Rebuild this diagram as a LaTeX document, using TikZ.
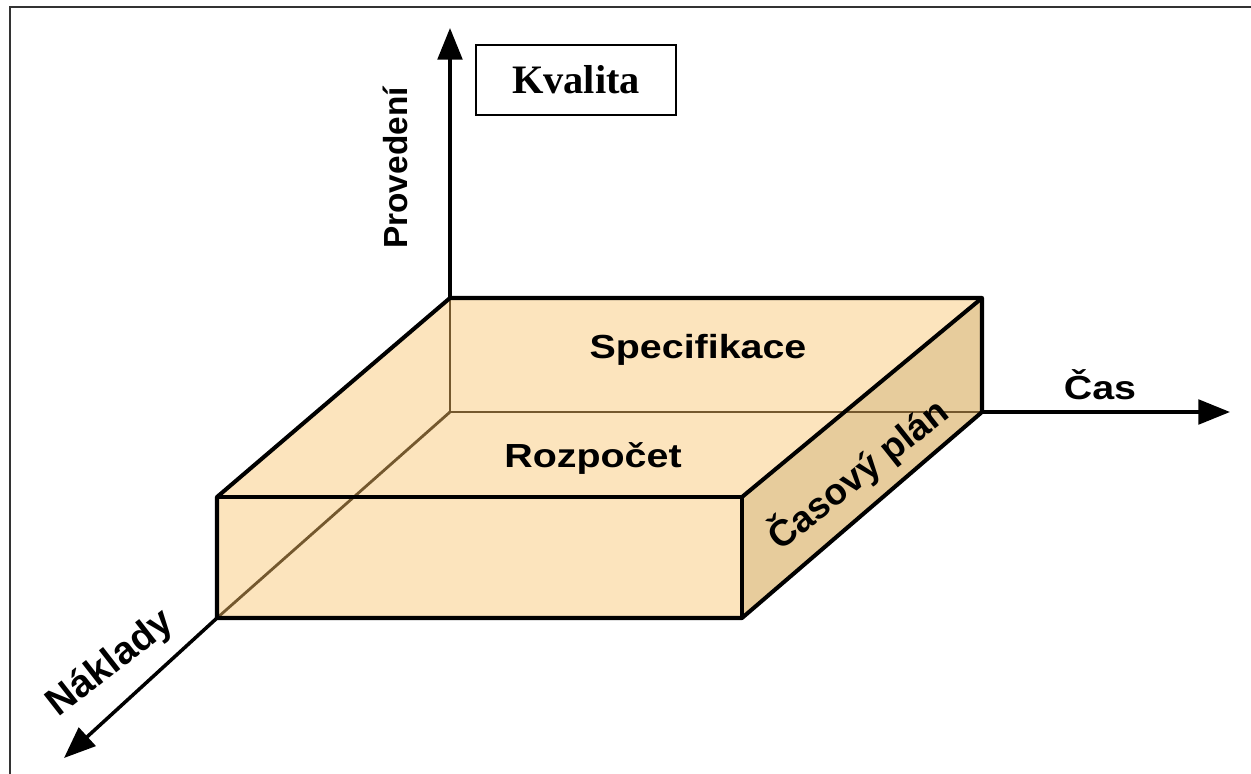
\documentclass[tikz,border=0pt]{standalone}
\usepackage{fontspec}
\setmainfont{Liberation Sans}
\newfontfamily\serifk{Liberation Serif}
\usetikzlibrary{arrows.meta}
\definecolor{facelight}{HTML}{FCE4BD}
\definecolor{faceside}{HTML}{E7CC9C}
\definecolor{hidden}{HTML}{74582E}
\tikzset{
  edge/.style={line width=2.3pt, line join=round},
  axis/.style={line width=2pt, -{Triangle[length=18pt,width=14pt]}},
  hid/.style={line width=1.6pt, hidden},
  lbl/.style={font=\bfseries\fontsize{19}{22}\selectfont, inner sep=0pt},
  frame/.style={line width=1.3pt, black!80}
}
\begin{document}
\begin{tikzpicture}[x=0.02cm,y=-0.02cm]
\useasboundingbox (0,0) rectangle (1251,774);
% frame (only top and left visible)
\coordinate (fbl) at (10,774);
\coordinate (ftl) at (10,7);
\coordinate (ftr) at (1251,7);
\draw[frame] (fbl) -- (ftl) -- (ftr);
% box corners
\coordinate (btl) at (450,298);
\coordinate (btr) at (982,298);
\coordinate (bbr) at (982,412);
\coordinate (bbl) at (450,412);
\coordinate (ftlc) at (217,497);
\coordinate (ftrc) at (742,497);
\coordinate (fbrc) at (742,618);
\coordinate (fblc) at (217,618);
% faces
\fill[facelight] (btl) -- (btr) -- (ftrc) -- (ftlc) -- cycle;
\fill[facelight] (ftlc) -- (ftrc) -- (fbrc) -- (fblc) -- cycle;
\fill[faceside] (btr) -- (bbr) -- (fbrc) -- (ftrc) -- cycle;
% hidden edges
\draw[hid] (btl) -- (bbl) -- (bbr);
\draw[hid] (bbl) -- (fblc);
% visible edges
\draw[edge] (btl) -- (btr) -- (bbr) -- (fbrc) -- (fblc) -- (ftlc) -- cycle;
\draw[edge] (ftlc) -- (ftrc) -- (fbrc);
\draw[edge] (ftrc) -- (btr);
% axes
\coordinate (ytip) at (450,28);
\coordinate (xtip) at (1230,412);
\coordinate (ztip) at (64,758);
\draw[axis] (btl) -- (ytip);
\draw[axis] (bbr) -- (xtip);
\draw[axis] (fblc) -- (ztip);
% labels
\node[draw, line width=1.3pt, minimum width=200*0.02cm, minimum height=70*0.02cm, inner sep=0pt,
      font=\serifk\bfseries\fontsize{23}{27}\selectfont] (kval) at (576,80) {Kvalita};
\node[lbl, rotate=90] (prov) at (395,168) {Proveden\'{\i}};
\node[lbl] (spec) at (698,350) {\scalebox{1.18}[1]{Specifikace}};
\node[lbl] (rozp) at (593,458) {\scalebox{1.18}[1]{Rozpo\v{c}et}};
\node[lbl] (cas) at (1100,385) {\scalebox{1.18}[1]{\v{C}as}};
\node[lbl, font=\bfseries\fontsize{21}{24}\selectfont, rotate=38.5] (plan) at (858,474) {\v{C}asov\'{y} pl\'{a}n};
\node[lbl, font=\bfseries\fontsize{22}{24}\selectfont, rotate=38] (nakl) at (111,664) {N\'{a}klady};
\end{tikzpicture}
\end{document}
